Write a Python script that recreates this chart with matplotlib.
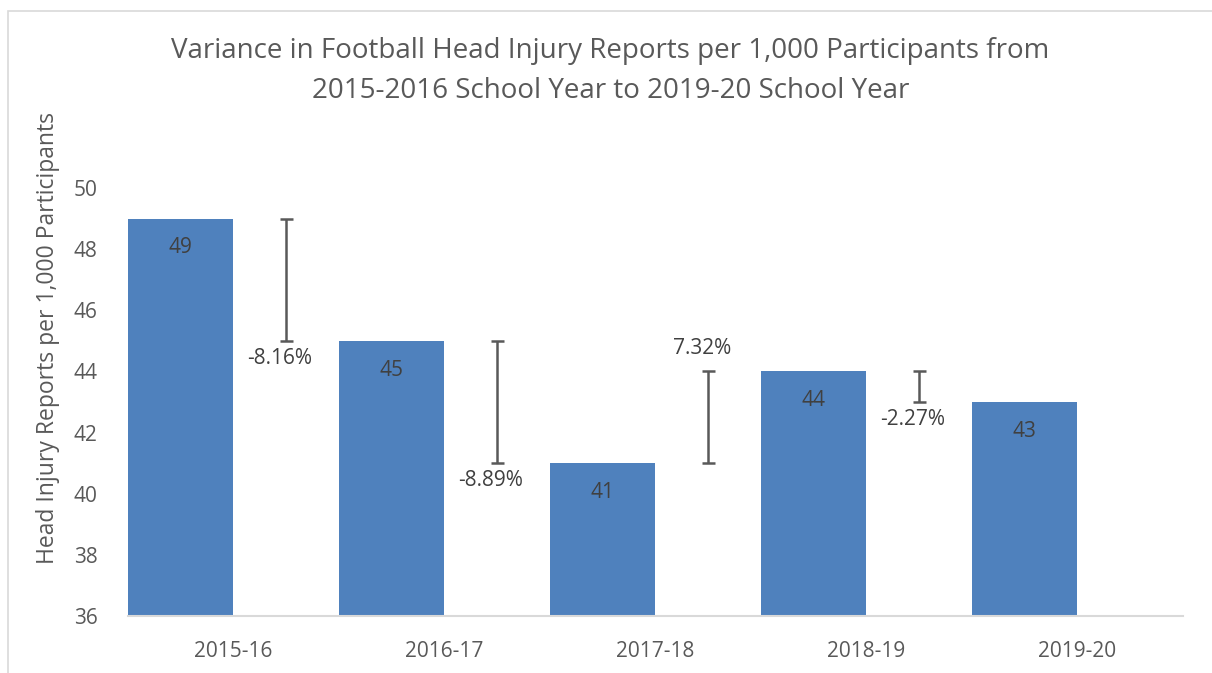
import numpy as np
import matplotlib
matplotlib.use("Agg")
import matplotlib.pyplot as plt
from matplotlib.patches import Rectangle

# chart data
years = ['2015-16', '2016-17', '2017-18', '2018-19', '2019-20']
reports = [49, 45, 41, 44, 43]
variance_pct = [-8.16, -8.89, 7.32, -2.27]

title = ("Variance in Football Head Injury Reports per 1,000 Participants from\n"
         "2015-2016 School Year to 2019-20 School Year")
ylabel = "Head Injury Reports per 1,000 Participants"

bar_color = '#4F81BD'
text_color = '#595959'

plt.rcParams['font.family'] = ['Open Sans', 'DejaVu Sans']

fig = plt.figure(figsize=(12.12, 6.73), dpi=100)
ax = fig.add_axes([0.1056, 0.0847, 0.8704, 0.636])

# outer chart border (extends past right/bottom edges like the screenshot)
fig.patches.append(Rectangle((8 / 1212, -0.1), 1.2, 1 - 11 / 673 + 0.1,
                             transform=fig.transFigure, fill=False,
                             edgecolor='#D9D9D9', linewidth=1.2))

x = np.arange(len(years))
ax.bar(x - 0.25, reports, width=0.5, color=bar_color, zorder=2)

for xi, v in zip(x, reports):
    ax.text(xi - 0.25, v - 0.62, str(v), ha='center', va='top',
            fontsize=15, color='#404040')

# variance bars between consecutive years
for i, p in enumerate(variance_pct):
    lo = min(reports[i], reports[i + 1])
    hi = max(reports[i], reports[i + 1])
    xe = x[i] + 0.25
    ax.plot([xe, xe], [lo, hi], color='#595959', lw=1.8, solid_capstyle='butt')
    for yy in (lo, hi):
        ax.plot([xe - 0.03, xe + 0.03], [yy, yy], color='#595959', lw=1.8,
                solid_capstyle='butt')
    if reports[i + 1] < reports[i]:
        ax.text(xe - 0.03, lo - 0.22, f"{p:.2f}%", ha='center', va='top',
                fontsize=15, color='#404040')
    else:
        ax.text(xe - 0.03, hi + 0.4, f"{p:.2f}%", ha='center', va='bottom',
                fontsize=15, color='#404040')

ax.set_xlim(-0.5, 4.5)
ax.set_ylim(36, 50)
ax.set_yticks(np.arange(36, 51, 2))
ax.set_xticks(x)
ax.set_xticklabels(years)
ax.tick_params(axis='both', length=0, labelsize=15, labelcolor=text_color)
ax.tick_params(axis='x', pad=18)
ax.tick_params(axis='y', pad=22)
for s in ('left', 'top', 'right'):
    ax.spines[s].set_visible(False)
ax.spines['bottom'].set_color('#D9D9D9')
ax.spines['bottom'].set_linewidth(1.5)

ax.set_ylabel(ylabel, fontsize=16.5, color=text_color)
ax.yaxis.set_label_coords(-0.064, 0.65)
fig.text(0.5037, 0.8945, title, ha='center', va='center', fontsize=20,
         color=text_color, linespacing=1.55)

fig.savefig('out.png', dpi=100)
